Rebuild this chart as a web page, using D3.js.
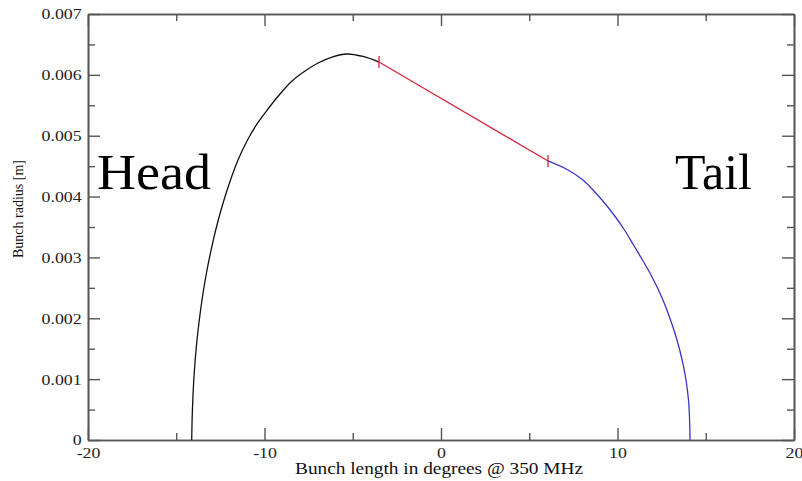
<!doctype html>
<html>
  <head>
    <meta charset="utf-8">
    <title>Bunch radius vs bunch length</title>
    <script src="https://d3js.org/d3.v7.min.js"></script>
    <style>
      body { margin: 0; background: #fff; }
      text { font-family: 'Liberation Serif', 'Times New Roman', serif; }
    </style>
  </head>
  <body>
    <svg id="chart" width="802" height="481"></svg>

    <script>
      // head part of the bunch (black)
      var headX = [-14.125, -14.102, -14.062, -14.006, -13.926, -13.824, -13.694, -13.541, -13.36, -13.144,
        -12.901, -12.618, -12.295, -11.926, -11.501, -10.992, -10.425, -9.802, -9.122, -8.442,
        -7.705, -6.969, -6.176, -5.326, -4.419, -3.513]
      var headY = [0, 0.000329, 0.000657, 0.000986, 0.001315, 0.001643, 0.001972, 0.0023, 0.002629, 0.002958,
        0.003286, 0.003615, 0.003944, 0.004272, 0.004601, 0.004913, 0.005193, 0.005439, 0.005685, 0.005899,
        0.006063, 0.006195, 0.006293, 0.006343, 0.006302, 0.006212]
      // straight middle segment (red)
      var midX = [-3.513, 6.062]
      var midY = [0.006212, 0.004585]
      // tail part (blue)
      var tailX = [6.062, 7.195, 8.045, 8.612, 9.122, 9.802, 10.397, 10.907, 11.416, 11.898,
        12.323, 12.691, 13.003, 13.286, 13.524, 13.722, 13.881, 14.023, 14.085, 14.108]
      var tailY = [0.004585, 0.004437, 0.004272, 0.004108, 0.003944, 0.003697, 0.003451, 0.003204, 0.002958, 0.002711,
        0.002465, 0.002218, 0.001972, 0.001725, 0.001479, 0.001233, 0.000986, 0.000657, 0.000329, 0]

      var xTicks = [-20, -10, 0, 10, 20]
      var xMinor = [-15, -5, 5, 15]
      var yTicks = [0, 0.001, 0.002, 0.003, 0.004, 0.005, 0.006, 0.007]
      var yMinor = [0.0005, 0.0015, 0.0025, 0.0035, 0.0045, 0.0055, 0.0065]

      var margin = { top: 14, right: 8, bottom: 41, left: 88 }
      var width = 802 - margin.left - margin.right
      var height = 481 - margin.top - margin.bottom

      var svg = d3.select('#chart')
      var g = svg.append('g').attr('transform', 'translate(' + margin.left + ',' + margin.top + ')')

      var x = d3.scaleLinear().domain([-20, 20]).range([0, width])
      var y = d3.scaleLinear().domain([0, 0.007]).range([height, 0])

      var fmtY = function (d) { return d === 0 ? '0' : d3.format('.3f')(d) }

      function styleAxis(sel) {
        sel.attr('font-family', null)
        sel.select('.domain').attr('stroke', '#555').attr('stroke-width', 1.6)
        sel.selectAll('.tick line').attr('stroke', '#555').attr('stroke-width', 1.4)
        sel.selectAll('.tick text')
          .attr('font-size', 15.5)
          .attr('fill', '#222')
          .style('font-family', "'Liberation Serif', serif")
          .attr('transform', 'scale(1.15,1)')
      }

      // minor ticks
      g.append('g').attr('transform', 'translate(0,' + height + ')')
        .call(d3.axisBottom(x).tickValues(xMinor).tickSizeInner(-7).tickSizeOuter(0).tickFormat(''))
        .call(styleAxis)
      g.append('g')
        .call(d3.axisTop(x).tickValues(xMinor).tickSizeInner(-7).tickSizeOuter(0).tickFormat(''))
        .call(styleAxis)
      g.append('g')
        .call(d3.axisLeft(y).tickValues(yMinor).tickSizeInner(-7).tickSizeOuter(0).tickFormat(''))
        .call(styleAxis)
      g.append('g').attr('transform', 'translate(' + width + ',0)')
        .call(d3.axisRight(y).tickValues(yMinor).tickSizeInner(-7).tickSizeOuter(0).tickFormat(''))
        .call(styleAxis)

      // major ticks
      g.append('g').attr('transform', 'translate(0,' + height + ')')
        .call(d3.axisBottom(x).tickValues(xTicks).tickSizeInner(-12).tickSizeOuter(0).tickPadding(6.8)
          .tickFormat(function (d) { return String(d) }))
        .call(styleAxis)
      g.append('g')
        .call(d3.axisTop(x).tickValues(xTicks).tickSizeInner(-12).tickSizeOuter(0).tickFormat(''))
        .call(styleAxis)
      g.append('g')
        .call(d3.axisLeft(y).tickValues(yTicks).tickSizeInner(-12).tickSizeOuter(0).tickPadding(5.5).tickFormat(fmtY))
        .call(styleAxis)
      g.append('g').attr('transform', 'translate(' + width + ',0)')
        .call(d3.axisRight(y).tickValues(yTicks).tickSizeInner(-12).tickSizeOuter(0).tickFormat(''))
        .call(styleAxis)

      var line = d3.line()
        .x(function (d) { return x(d[0]) })
        .y(function (d) { return y(d[1]) })
        .curve(d3.curveCatmullRom.alpha(0.5))

      var headPts = d3.zip(headX, headY)
      var midPts = d3.zip(midX, midY)
      var tailPts = d3.zip(tailX, tailY)

      g.append('path').datum(headPts).attr('d', line)
        .attr('fill', 'none').attr('stroke', '#111').attr('stroke-width', 1.3)
      g.append('path').datum(tailPts).attr('d', line)
        .attr('fill', 'none').attr('stroke', '#3a36c4').attr('stroke-width', 1.3)
      g.append('path').datum(midPts).attr('d', d3.line().x(function (d) { return x(d[0]) }).y(function (d) { return y(d[1]) }))
        .attr('fill', 'none').attr('stroke', '#d8203a').attr('stroke-width', 1.2)

      // end markers of the red segment
      g.selectAll('.mark').data(midPts).enter().append('line')
        .attr('class', 'mark')
        .attr('x1', function (d) { return x(d[0]) })
        .attr('x2', function (d) { return x(d[0]) })
        .attr('y1', function (d) { return y(d[1]) - 6 })
        .attr('y2', function (d) { return y(d[1]) + 6 })
        .attr('stroke', '#d8203a').attr('stroke-width', 1.3)

      // axis titles
      svg.append('text')
        .attr('x', 295).attr('y', 473.5)
        .attr('font-size', 16).attr('fill', '#111')
        .attr('textLength', 288).attr('lengthAdjust', 'spacingAndGlyphs')
        .text('Bunch length in degrees @ 350 MHz')
      svg.append('text')
        .attr('transform', 'translate(23,209) rotate(-90)')
        .attr('text-anchor', 'middle')
        .attr('font-size', 14).attr('fill', '#111')
        .text('Bunch radius [m]')

      // annotations
      svg.append('text')
        .attr('x', 97).attr('y', 189)
        .attr('font-size', 51).attr('fill', '#000')
        .attr('textLength', 114).attr('lengthAdjust', 'spacingAndGlyphs')
        .text('Head')
      svg.append('text')
        .attr('x', 675).attr('y', 189)
        .attr('font-size', 51).attr('fill', '#000')
        .attr('textLength', 77).attr('lengthAdjust', 'spacingAndGlyphs')
        .text('Tail')
    </script>
  </body>
</html>
